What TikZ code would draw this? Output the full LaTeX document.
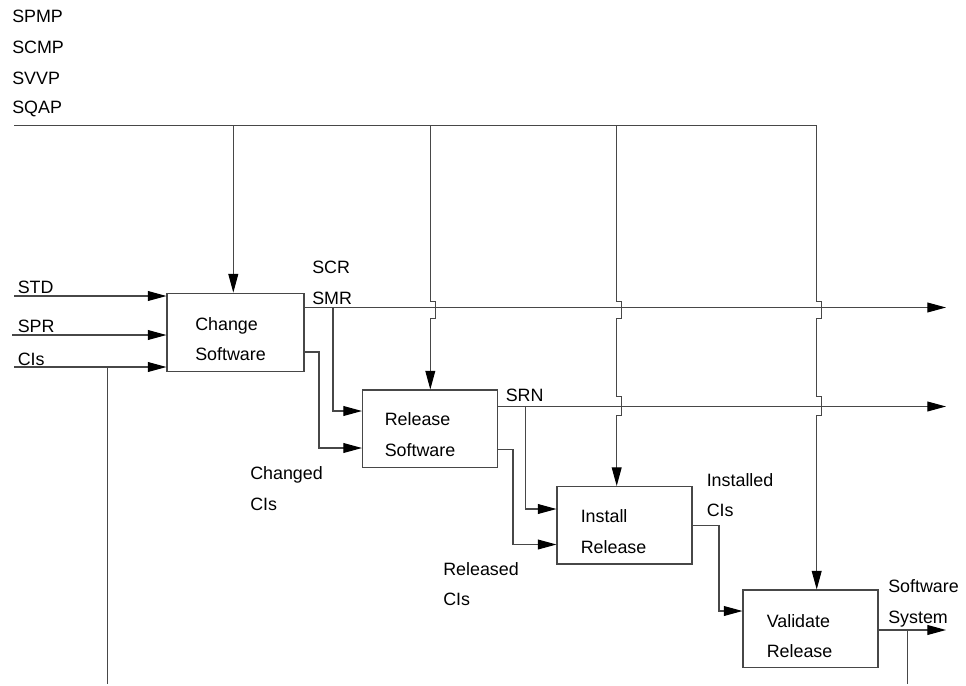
\documentclass[tikz,border=0pt]{standalone}
\usepackage{fontspec}
\setmainfont{Liberation Sans}
\usetikzlibrary{arrows.meta,calc}
\begin{document}
\begin{tikzpicture}[x=0.75pt,y=-0.75pt,
  ln/.style={draw=black!72,line width=0.8pt},
  arr/.style={ln,-{Triangle[length=14pt,width=7.4pt,fill=black,color=black]}},
  box/.style={draw=black!72,line width=0.8pt,fill=white,inner sep=0pt},
  lbl/.style={anchor=base west,inner sep=0pt,font=\fontsize{13.4}{16}\selectfont},
  jogat/.style n args={3}{insert path={-- ($(#1)+(0,#2)$) -- ++(5,0) -- ++(0,#3) -- ++(-5,0)}}]
\useasboundingbox (0,0) rectangle (966,685);

% boxes
\node[box,minimum width=102.75pt,minimum height=59pt] (chg) at (235.5,332.5) {};
\node[box,minimum width=101.25pt,minimum height=58.1pt] (rel) at (430,428.75) {};
\node[box,minimum width=101.25pt,minimum height=58.1pt] (ins) at (624.5,525.25) {};
\node[box,minimum width=101.25pt,minimum height=58.1pt] (val) at (810.5,628.75) {};

% box texts
\node[lbl] (chgA) at (195,330) {Change};
\node[lbl] (chgB) at (195,360) {Software};
\node[lbl] (relA) at (384.5,425) {Release};
\node[lbl] (relB) at (384.5,456) {Software};
\node[lbl] (insA) at (580.5,522) {Install};
\node[lbl] (insB) at (580.5,553) {Release};
\node[lbl] (valA) at (766.5,627) {Validate};
\node[lbl] (valB) at (766.5,657) {Release};

% top labels
\node[lbl] (spmp) at (12,22.5) {SPMP};
\node[lbl] (scmp) at (12,53.5) {SCMP};
\node[lbl] (svvp) at (12,84.5) {SVVP};
\node[lbl] (sqap) at (12,113) {SQAP};

% input labels
\node[lbl] (std) at (17.5,293.5) {STD};
\node[lbl] (spr) at (17.5,332) {SPR};
\node[lbl] (cis) at (17.5,365) {CIs};

% output labels
\node[lbl] (scr) at (312,273) {SCR};
\node[lbl] (smr) at (312,304) {SMR};
\node[lbl] (srn) at (505.5,401.5) {SRN};
\node[lbl] (chgd) at (250,479) {Changed};
\node[lbl] (chgdb) at (250,510) {CIs};
\node[lbl] (rlsd) at (443,575.5) {Released};
\node[lbl] (rlsdb) at (443,605.5) {CIs};
\node[lbl] (inst) at (706.5,486) {Installed};
\node[lbl] (instb) at (706.5,516.5) {CIs};
\node[lbl] (sws) at (888,592.5) {Software};
\node[lbl] (swsb) at (888,623) {System};

% coordinates
\coordinate (topL) at (14,125.7);
\coordinate (t1) at (233.3,125.7);
\coordinate (t2) at (430.3,125.7);
\coordinate (t3) at (616.7,125.7);
\coordinate (t4) at (816.7,125.7);
\coordinate (inSTD) at (14,296);
\coordinate (inSPR) at (12,335);
\coordinate (inCIs) at (14,367);
\coordinate (cisDown) at (107.3,367);
\coordinate (cisEnd) at (107.3,684);
\coordinate (smrEnd) at (946,307.5);
\coordinate (srnEnd) at (946,406.5);
\coordinate (sysEnd) at (946,630);
\coordinate (sysDown) at (907.5,630);
\coordinate (sysBot) at (907.5,684);
\coordinate (b1) at (333,307.5);
\coordinate (b2) at (525.5,406.5);

% top control line
\draw[ln] (topL) -- (t4);
\draw[arr] (t1) -- (t1 |- chg.north);
\draw[arr] (t2) [jogat={t2 |- smrEnd}{-6}{17}] -- (t2 |- rel.north);
\draw[arr] (t3) [jogat={t3 |- smrEnd}{-6}{17}] [jogat={t3 |- srnEnd}{-10}{19}] -- (t3 |- ins.north);
\draw[arr] (t4) [jogat={t4 |- smrEnd}{-6}{17}] [jogat={t4 |- srnEnd}{-10}{19}] -- (t4 |- val.north);

% inputs
\draw[arr] (inSTD) -- (inSTD -| chg.west);
\draw[arr] (inSPR) -- (inSPR -| chg.west);
\draw[arr] (inCIs) -- (inCIs -| chg.west);
\draw[ln] (cisDown) -- (cisEnd);

% Change Software outputs
\draw[arr] (smrEnd -| chg.east) -- (smrEnd);
\draw[arr] (b1) -- (333,411) -- (rel.west |- 0,411);
\draw[arr] (chg.east |- 0,352) -- (319,352) -- (319,448) -- (rel.west |- 0,448);

% Release Software outputs
\draw[arr] (srnEnd -| rel.east) -- (srnEnd);
\draw[arr] (b2) -- (525.5,509) -- (ins.west |- 0,509);
\draw[arr] (rel.east |- 0,449.5) -- (513,449.5) -- (513,544.5) -- (ins.west |- 0,544.5);

% Install Release outputs
\draw[arr] (ins.east |- 0,525.5) -- (719,525.5) -- (719,611) -- (val.west |- 0,611);

% Validate Release outputs
\draw[arr] (sysEnd -| val.east) -- (sysEnd);
\draw[ln] (sysDown) -- (sysBot);
\end{tikzpicture}
\end{document}
